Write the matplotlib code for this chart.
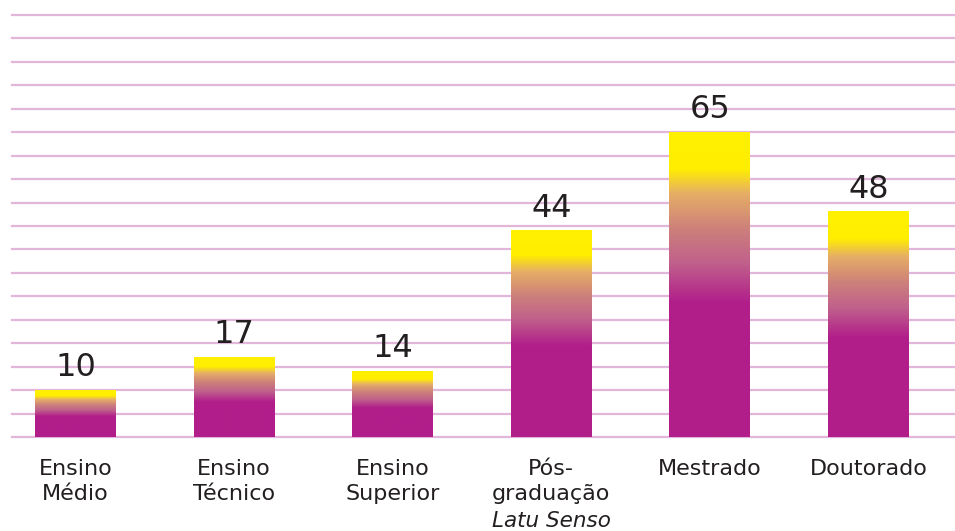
import numpy as np
import matplotlib.pyplot as plt
from matplotlib.colors import LinearSegmentedColormap

categories = ['Ensino\nMédio', 'Ensino\nTécnico', 'Ensino\nSuperior',
              'Pós-\ngraduação', 'Mestrado', 'Doutorado']
values = [10, 17, 14, 44, 65, 48]
italic_note = 'Latu Senso'   # extra line under "Pós-graduação"
note_index = 3

text_color = '#231f20'
grid_color = '#e2b6da'

# gradient along each bar, 0 = top of bar, 1 = bottom
grad = LinearSegmentedColormap.from_list('bar_grad', [
    (0.00, '#fff000'),
    (0.12, '#ffee00'),
    (0.20, '#e6ae66'),
    (0.32, '#cc7f7b'),
    (0.43, '#c0608c'),
    (0.56, '#b11e8a'),
    (1.00, '#b11e8a'),
])

plt.rcParams['font.family'] = ['DejaVu Sans']

fig = plt.figure(figsize=(9.55, 5.31), dpi=100)
ax = fig.add_axes([12 / 955, 1 - 437 / 531, 1 - 12 / 955, (437 - 15) / 531])

x = np.arange(len(values))
bars = ax.bar(x, values, width=0.51, color='none', zorder=2)

g = grad(np.linspace(0, 1, 256))[:, None, :3]
for rect, v in zip(bars, values):
    x0 = rect.get_x()
    x1 = x0 + rect.get_width()
    ax.imshow(g, extent=(x0, x1, 0, v), aspect='auto', origin='upper',
              interpolation='bilinear', zorder=2)
    ax.annotate(str(v), (rect.get_x() + rect.get_width() / 2, v),
                xytext=(0, 5), textcoords='offset points',
                ha='center', va='bottom', fontsize=23, color=text_color)

for yv in np.arange(0, 95, 5):
    ax.axhline(yv, color=grid_color, lw=1.6, zorder=1, clip_on=False)

ax.set_xlim(-0.40, 5.545)
ax.set_ylim(0, 90)
ax.set_xticks(x)
ax.set_xticklabels(categories, fontsize=16, color=text_color, linespacing=1.3,
                   va='top')
ax.tick_params(axis='x', length=0, pad=16)
ax.set_yticks([])
for s in ax.spines.values():
    s.set_visible(False)

ax.annotate(italic_note, (note_index, 0), xytext=(0, -53), textcoords='offset points',
            ha='center', va='top', fontsize=15.5, style='italic', color=text_color,
            annotation_clip=False)

fig.savefig('out.png', dpi=100)
